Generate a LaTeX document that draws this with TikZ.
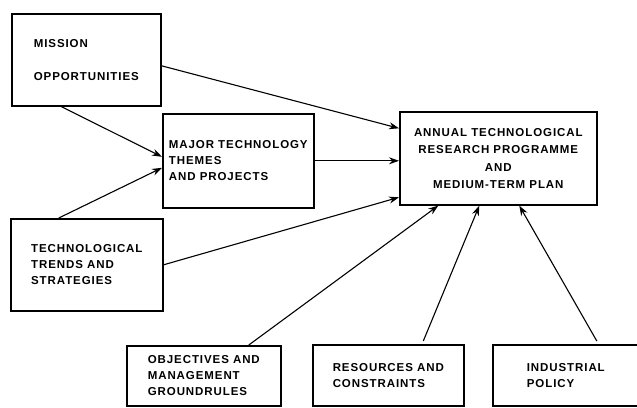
\documentclass[tikz,border=0pt]{standalone}
\usepackage{fontspec}
\setmainfont{Liberation Sans}[LetterSpace=8]
\usetikzlibrary{arrows.meta}

\begin{document}
\begin{tikzpicture}[
    x=1pt, y=-1pt,
    ->, >={Stealth[length=10pt, width=7pt]}, line width=1.1pt,
    every node/.append style={font=\fontsize{11.5}{16}\selectfont\bfseries},
    block/.style={draw, line width=1.6pt, rectangle, anchor=north west, align=left, inner sep=0pt}
]
    \useasboundingbox (0,0) rectangle (637,407);

    \node[block, minimum width=149pt, minimum height=92pt] (MISSION) at (11,13) {MISSION\\[17pt]OPPORTUNITIES};
    \node[block, minimum width=151pt, minimum height=94pt] (THEMES) at (162,113) {MAJOR TECHNOLOGY\\THEMES\\AND PROJECTS};
    \node[block, minimum width=197pt, minimum height=93pt, align=center,
          font=\fontsize{11.5}{17.5}\selectfont\bfseries] (ANNUAL) at (399,111) {ANNUAL TECHNOLOGICAL\\RESEARCH PROGRAMME\\AND\\MEDIUM-TERM PLAN};
    \node[block, minimum width=152pt, minimum height=92pt] (TRENDS) at (10,218) {TECHNOLOGICAL\\TRENDS AND\\STRATEGIES};
    \node[block, minimum width=154pt, minimum height=60pt] (OBJECTIVES) at (126,345) {OBJECTIVES AND\\MANAGEMENT\\GROUNDRULES};
    \node[block, minimum width=151pt, minimum height=61pt] (RESOURCES) at (312,344) {RESOURCES AND\\CONSTRAINTS};
    \node[block, minimum width=146pt, minimum height=61pt] (POLICY) at (492,344) {INDUSTRIAL\\POLICY};

    \path ([yshift=-6pt]MISSION.east) edge ([yshift=30pt]ANNUAL.west)
          ([xshift=-25pt]MISSION.south) edge ([yshift=4pt]THEMES.west)
          ([xshift=-28pt]TRENDS.north) edge ([yshift=-7pt]THEMES.west)
          (THEMES.east) edge (THEMES.east -| ANNUAL.west)
          (TRENDS.east) edge ([yshift=-39pt]ANNUAL.west);

    \path ([xshift=45pt]OBJECTIVES.north) edge ([xshift=-60pt]ANNUAL.south)
          ([xshift=35pt,yshift=3pt]RESOURCES.north) edge ([xshift=-19pt]ANNUAL.south)
          ([xshift=31pt,yshift=3pt]POLICY.north) edge ([xshift=21pt]ANNUAL.south);
\end{tikzpicture}
\end{document}
